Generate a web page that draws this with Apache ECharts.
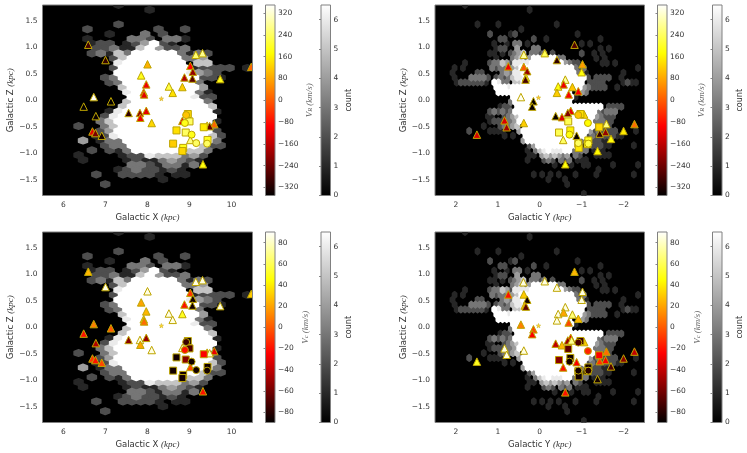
<!DOCTYPE html>
<html><head><meta charset="utf-8">
<style>html,body{margin:0;padding:0;background:#fff}#c{width:747px;height:453px}</style>
<script src="https://cdn.jsdelivr.net/npm/echarts@6/dist/echarts.min.js"></script>
</head><body><div id="c"></div>
<script>
// ---------- tick labels ----------
const xTicksX = [6,7,8,9,10];
const xTicksY = [2,1,0,-1,-2];
const zTicks = [-1.5,-1,-0.5,0,0.5,1,1.5];
const vrTicks = [-320,-240,-160,-80,0,80,160,240,320];
const vcTicks = [-80,-60,-40,-20,0,20,40,60,80];
const countTicks = [0,1,2,3,4,5,6];

// ---------- hexbin counts: [row, firstColumn, counts per column] (7 = saturated) ----------
const hexCountsXZ = [
[-4,8,"1"],[-3,11,"1"],[0,8,"2"],[1,4,"2"],[1,12,"2"],[1,15,"2"],[2,7,"1"],[2,11,"3"],[2,13,"2"],
[3,4,"1"],[3,9,"332"],[3,13,"331"],[4,5,"122"],[4,9,"124"],[4,12,"721"],[5,5,"223"],[5,8,"115"],[5,11,"74"],[5,13,"223"],
[6,5,"231"],[6,8,"53"],[6,10,"77777"],[6,15,"31"],[6,17,"32"],[7,7,"25"],[7,9,"777777"],[7,15,"3"],[7,16,"34"],
[8,8,"6"],[8,9,"7777777"],[8,17,"55"],[9,7,"2"],[9,8,"77777777"],[9,16,"1"],[9,17,"2"],[9,18,"222"],[9,22,"1"],
[10,8,"777777776432"],[11,6,"23"],[11,8,"777777777"],[11,17,"221"],[12,7,"23"],[12,9,"77777777"],[12,17,"3"],
[13,8,"5"],[13,9,"77777777"],[13,17,"4"],[14,9,"6"],[14,10,"7777777"],[14,17,"31"],[15,9,"7"],[15,10,"777777"],[15,16,"62"],[15,18,"2"],
[16,9,"5"],[16,10,"77777777"],[16,18,"3"],[17,8,"5"],[17,9,"777777777"],[17,18,"5"],[18,7,"1"],[18,8,"6"],[18,9,"7777777777"],[18,19,"1"],
[19,6,"26"],[19,8,"77777777777"],[20,6,"35"],[20,8,"77777777777"],[20,19,"1"],[21,3,"2"],[21,6,"35"],[21,8,"7777777777"],[21,18,"3"],
[22,6,"24"],[22,8,"77777777777"],[22,19,"2"],[23,5,"12"],[23,7,"6"],[23,8,"7777777777"],[23,18,"52"],
[24,4,"4"],[24,6,"133"],[24,9,"777777777"],[24,18,"63"],[25,6,"233"],[25,9,"77777777"],[25,17,"5"],[25,18,"2"],[25,19,"2"],
[26,5,"2"],[26,7,"213"],[26,10,"777777"],[26,16,"553"],[27,3,"1"],[27,8,"1"],[27,9,"22"],[27,11,"655534"],[27,17,"2"],
[28,4,"1"],[28,9,"121"],[28,12,"13432"],[28,17,"1"],[29,9,"33"],[29,11,"21"],[29,13,"33"],[29,15,"1"],[29,16,"3"],
[30,8,"1"],[30,9,"232"],[30,12,"2"],[30,13,"121"],[31,5,"2"],[31,8,"2222"],[31,12,"1"],[31,14,"11"],[32,13,"1"],[33,6,"2"]
];
const hexCountsYZ = [
[-4,7,"1"],[-3,22,"1"],[0,10,"1"],[0,15,"1"],[0,29,"1"],[1,20,"1"],[2,13,"2"],[2,18,"1"],[2,19,"2"],[2,34,"1"],
[3,15,"22"],[3,23,"2"],[3,26,"1"],[3,39,"1"],[4,14,"1"],[4,17,"1"],[4,19,"33"],[4,22,"1"],[4,35,"1"],[4,37,"1"],
[5,14,"122"],[5,19,"4"],[5,23,"33"],[5,39,"1"],[5,41,"1"],[6,13,"11"],[6,16,"1"],[6,18,"2345"],[6,23,"3323"],[6,28,"2"],[6,35,"2"],[6,38,"1"],[6,40,"1"],
[7,14,"1"],[7,18,"3453"],[7,22,"4777777"],[7,29,"33"],[7,38,"1"],[7,40,"1"],
[8,7,"1"],[8,13,"233542"],[8,19,"6666"],[8,23,"77777777"],[8,31,"4322"],[8,40,"11"],[8,43,"1"],
[9,4,"1"],[9,6,"1"],[9,13,"3233"],[9,17,"345"],[9,20,"7777777777777"],[9,33,"323"],[9,48,"1"],
[10,4,"1"],[10,10,"22"],[10,16,"343"],[10,19,"66"],[10,21,"7777777777777"],[10,34,"32"],[10,36,"1"],[10,45,"1"],
[11,4,"1"],[11,8,"33332"],[11,14,"2323"],[11,18,"566"],[11,21,"777777777777777"],[11,36,"2"],[11,38,"2222"],[11,44,"1"],
[12,5,"12222221"],[12,14,"76"],[12,16,"33"],[12,19,"55"],[12,21,"777777777777777"],[12,37,"2222"],[12,45,"121"],[12,48,"1"],
[13,14,"777677777777777777777"],[13,35,"432"],[13,38,"222"],[13,43,"1"],
[14,15,"7777"],[14,19,"77777777777777"],[14,35,"43"],[15,18,"777777777777777"],[15,33,"1"],[16,18,"3"],[16,19,"77777777777777"],
[17,15,"122"],[17,19,"777777777777777777777"],[17,41,"2222"],[18,13,"232323"],[18,19,"77777777777777777777"],[18,39,"32333"],
[19,12,"11"],[19,16,"234"],[19,19,"5"],[19,20,"777777777777777777"],[19,38,"43"],[19,40,"222"],
[20,13,"1222334"],[20,20,"777777777777777777"],[20,38,"33322"],[21,11,"1"],[21,15,"23345"],[21,21,"77777777777777777"],[21,38,"32"],[21,40,"22"],
[22,8,"2"],[22,13,"1111"],[22,20,"4"],[22,21,"7777777777777777"],[22,37,"4232222"],[22,48,"1"],
[23,16,"1"],[23,18,"1"],[23,21,"777777777777777"],[23,36,"232222211"],[24,21,"4"],[24,22,"7777777777777"],[24,35,"3"],[24,36,"2222111"],
[25,22,"24"],[25,24,"7777777777"],[25,34,"4"],[25,36,"222211"],[25,47,"1"],[26,22,"1"],[26,24,"35"],[26,26,"6766677"],[26,33,"3333"],[26,38,"111"],
[27,22,"11"],[27,25,"4545434"],[27,33,"32"],[27,38,"111"],[27,41,"1"],[28,22,"1"],[28,26,"232"],[28,30,"323"],[28,34,"111"],
[29,28,"1"],[29,32,"1"],[29,35,"11"],[29,42,"1"],[29,48,"1"],[30,39,"1"],[31,23,"1"],[31,25,"1"],[31,27,"1"],[31,29,"1"],[31,33,"1"],[31,38,"1"],[31,47,"1"],
[32,27,"1"],[32,31,"1"],[33,31,"1"],[35,35,"1"]
];

// ---------- markers: [horizontal kpc, Z kpc, velocity] ----------
const trianglesXVR = [[6.59,1.05,-280],[7.0,.76,-300],[8.0,.68,90],[7.85,.47,190],[7.97,.30,-110],[7.91,.15,-100],[7.92,.11,-120],[8.51,.26,220],[8.6,.14,140],[8.83,.25,120],[9.02,.65,-90],[9.08,.54,-200],[8.88,.43,-170],[9.07,.41,-260],[9.15,.86,250],[9.31,.89,270],[9.73,.40,190],[10.47,.63,10],[6.72,.06,345],[7.13,-.02,-345],[6.48,-.12,-345],[6.77,-.30,-340],[7.55,-.24,-300],[7.82,-.24,-200],[7.83,-.33,-110],[7.97,-.20,-120],[8.1,-.43,130],[6.69,-.59,-120],[6.76,-.62,-230],[6.91,-.67,-330],[9.32,-1.21,180],[8.83,-.39,-110],[9.59,-.45,10],[9.42,-.48,260],[9.48,-.49,-250],[9.02,-.75,260]];
const squaresXVR = [[8.96,-.26,130],[9.0,-.40,240],[8.69,-.57,140],[8.91,-.61,240],[9.34,-.51,150],[8.61,-.82,120],[8.85,-.90,190],[8.83,-.96,130],[9.43,-.75,190]];
const circlesXVR = [[8.92,-.28,110],[8.89,-.43,190],[9.05,-.65,190],[9.16,-.81,240],[9.42,-.82,240]];
const starXVR = [[8.33,.03,100]];

const trianglesYVR = [[-.83,1.05,-270],[-.41,.76,-300],[-1.02,.68,70],[-1.0,.53,180],[.38,.86,280],[-.12,.89,230],[.75,.64,-110],[.38,.63,0],[.30,.55,-200],[.33,.43,190],[.34,.39,-280],[-.61,.39,280],[-.44,.26,180],[-.57,.30,-110],[-.41,.14,120],[-.78,.25,110],[-.69,.11,-100],[-.92,.17,-100],[.45,.06,340],[.15,-.02,-340],[.18,-.12,-340],[-.38,-.30,-340],[-.53,-.32,-130],[-.74,-.20,-120],[-.67,-.24,-220],[.38,-.43,120],[.84,-.38,-130],[.79,-.51,-190],[1.5,-.65,-130],[-1.06,-.27,130],[-1.59,-.45,260],[-2.26,-.45,20],[-2.0,-.58,150],[-1.7,-.73,180],[-1.57,-.60,-200],[-1.43,-.63,-300],[-.88,-.67,-340],[-.56,-.75,240],[-1.38,-.96,170],[-.61,-1.21,180]];
const squaresYVR = [[-.97,-.26,140],[-.68,-.40,230],[-1.42,-.51,130],[-.73,-.57,160],[-.46,-.61,230],[-1.16,-.76,190],[-.92,-.82,180],[-.93,-.90,150],[-1.14,-.83,180]];
const circlesYVR = [[-.92,-.28,110],[-1.15,-.43,170],[-.71,-.65,180],[-.92,-.81,240],[-1.16,-.82,220]];
const starYVR = [[.03,.05,100]];

const trianglesXVc = [[6.59,1.05,25],[7.0,.76,85],[8.0,.68,85],[7.85,.47,20],[7.97,.30,25],[7.91,.15,30],[7.92,.11,5],[8.51,.26,85],[8.6,.14,85],[8.83,.25,50],[9.02,.65,-10],[9.08,.54,-85],[8.88,.43,-20],[9.07,.41,-85],[9.15,.86,85],[9.31,.89,85],[9.73,.40,85],[10.47,.63,30],[6.72,.06,10],[7.13,-.02,0],[6.48,-.12,-20],[6.77,-.30,-45],[7.55,-.24,-55],[7.82,-.24,85],[7.83,-.33,20],[7.97,-.20,-50],[8.1,-.43,85],[6.69,-.59,-10],[6.76,-.62,-20],[6.91,-.67,-5],[9.32,-1.21,-20],[8.83,-.39,80],[9.59,-.45,-30],[9.42,-.48,20],[9.48,-.49,80],[9.02,-.75,-5]];
const squaresXVc = [[8.96,-.26,-85],[9.0,-.40,-70],[8.69,-.57,-85],[8.91,-.61,-55],[9.34,-.51,-25],[8.61,-.82,-85],[8.85,-.90,-85],[8.83,-.96,-85],[9.43,-.75,-85]];
const circlesXVc = [[8.92,-.28,-75],[8.89,-.43,-20],[9.05,-.65,-85],[9.16,-.81,-85],[9.42,-.82,-85]];
const starXVc = [[8.33,.03,30]];

const trianglesYVc = [[-.83,1.05,25],[-.41,.75,85],[-1.02,.67,85],[-1.0,.52,85],[.39,.85,85],[-.12,.87,85],[.75,.62,-20],[.38,.62,30],[.30,.52,-85],[.36,.41,25],[.33,.39,-65],[-.61,.38,85],[-.44,.25,85],[-.57,.28,20],[-.41,.13,85],[-.78,.24,65],[-.69,.09,-5],[-.92,.16,25],[.45,.05,10],[.15,-.04,-5],[.18,-.13,-25],[-.38,-.31,-40],[-.53,-.34,25],[-.74,-.20,-30],[-.67,-.25,-50],[-.76,-.25,70],[.38,-.44,85],[.84,-.40,85],[.79,-.52,85],[1.5,-.65,50],[-1.06,-.28,30],[-1.59,-.46,5],[-2.26,-.46,-40],[-2.0,-.59,-55],[-1.7,-.74,-70],[-1.57,-.62,-25],[-1.43,-.64,-10],[-.88,-.66,-25],[-.56,-.76,-20],[-1.38,-.98,-85],[-.61,-1.23,-20]];
const squaresYVc = [[-.97,-.26,-75],[-.68,-.41,-65],[-1.42,-.53,-25],[-.73,-.58,-85],[-.46,-.62,-55],[-1.16,-.76,-85],[-.92,-.83,-80],[-.93,-.93,-85],[-1.14,-.83,-80]];
const circlesYVc = [[-.92,-.29,-70],[-1.15,-.45,-15],[-.71,-.65,-85],[-.92,-.82,-85],[-1.16,-.82,-80]];
const starYVc = [[.03,.03,30]];

// ---------- rendering ----------
const FONT = '"DejaVu Sans"', INK = '#333', FRAME = '#808080', EDGE = 'rgb(190,165,0)';
const clamp = t => Math.max(0, Math.min(1, t));
function hot(t){ t = clamp(t);
  const r = clamp(t/.365), g = clamp((t-.365)/.381), b = clamp((t-.746)/.254);
  return `rgb(${Math.round(r*255)},${Math.round(g*255)},${Math.round(b*255)})`; }
const HOT_STOPS = [{offset:0,color:'#000'},{offset:.365,color:'#f00'},{offset:.746,color:'#ff0'},{offset:1,color:'#fff'}];
const GRAY_STOPS = [{offset:0,color:'#000'},{offset:1,color:'#fff'}];

const option = {animation:false, backgroundColor:'#fff', grid:[], xAxis:[], yAxis:[], series:[], graphic:[]};

function hexData(rows, x0, sx, dirSign){
  const out = [];
  rows.forEach(([row, col, counts]) => {
    [...counts].forEach((ch, k) => {
      const n = +ch; if (!n) return;
      const x = x0 + dirSign * sx * (col + k + (((row % 2) + 2) % 2) * 0.5);
      out.push([x, 1.434 - row * 0.0915, n]);
    });
  });
  return out;
}
const HEX_SY = 0.183;
function hexSeries(g, data, sx){
  return {type:'custom', xAxisIndex:g, yAxisIndex:g, clip:true, silent:true, z:1, data,
    renderItem(params, api){
      const x = api.value(0), y = api.value(1), n = api.value(2);
      const hw = sx/2, h1 = HEX_SY/3, h2 = HEX_SY/6;
      const pts = [[x+hw,y-h2],[x+hw,y+h2],[x,y+h1],[x-hw,y+h2],[x-hw,y-h2],[x,y-h1]].map(p=>api.coord(p));
      const v = Math.round(Math.min(1, n/6.5)*255), c = `rgb(${v},${v},${v})`;
      return {type:'polygon', z2:n, shape:{points:pts}, style:{fill:c, stroke:c, lineWidth:1.6, lineJoin:'round'}};
    }};
}
function markerSeries(g, data, symbol, size, vmax, z){
  return {type:'scatter', xAxisIndex:g, yAxisIndex:g, symbol, symbolSize:size, silent:true, z, data,
    itemStyle:{color:p=>hot((p.value[2]+vmax)/(2*vmax)), borderColor:EDGE, borderWidth:1, opacity:1}};
}
function axisName(t){ return t + ' {i|(kpc)}'; }
const nameStyle = {color:INK, fontFamily:FONT, fontSize:8.5, rich:{i:{fontFamily:'"Liberation Serif"', fontStyle:'italic', fontSize:9, color:INK}}};
const fmtMinus = d => v => (d ? (+v).toFixed(d) : String(v)).replace('-', '\u2212');

function addPanel(left, top, xLabel, xRange, inverse, xTicks, rows, x0, sx, dir, tri, sq, cir, star, vmax){
  const g = option.grid.length;
  option.grid.push({left, top, width: inverse ? 209.5 : 210, height:190.5, show:true, backgroundColor:'#000', borderColor:FRAME, borderWidth:1});
  option.xAxis.push({type:'value', gridIndex:g, min:xRange[0], max:xRange[1], inverse, name:axisName(xLabel), nameLocation:'middle', nameGap:18, nameTextStyle:nameStyle,
    axisLine:{show:false}, axisTick:{show:false}, splitLine:{show:false},
    axisLabel:{customValues:xTicks, color:INK, fontFamily:FONT, fontSize:7.5, margin:6, formatter:fmtMinus(0)}});
  option.yAxis.push({type:'value', gridIndex:g, min:-1.8, max:1.8, name:axisName('Galactic Z'), nameLocation:'middle', nameGap:27, nameTextStyle:nameStyle,
    axisLine:{show:false}, axisTick:{show:false}, splitLine:{show:false},
    axisLabel:{customValues:zTicks, color:INK, fontFamily:FONT, fontSize:7.5, margin:5, formatter:fmtMinus(1)}});
  option.series.push(hexSeries(g, hexData(rows, x0, sx, dir), sx));
  const clip = true;
  option.series.push(Object.assign(markerSeries(g, tri, 'triangle', 7.5, vmax, 2), {clip}));
  option.series.push(Object.assign(markerSeries(g, sq, 'rect', 7, vmax, 3), {clip}));
  option.series.push(Object.assign(markerSeries(g, cir, 'circle', 7, vmax, 4), {clip}));
  option.series.push(Object.assign(markerSeries(g, star, 'path://M0,-10 L2.9,-3.1 10,-3.1 4.3,1.2 6.2,8.1 0,4 -6.2,8.1 -4.3,1.2 -10,-3.1 -2.9,-3.1 Z', 4.5, vmax, 5), {clip, itemStyle:{color:p=>hot((p.value[2]+vmax)/(2*vmax)), borderColor:EDGE, borderWidth:.5}}));
  if (!inverse) option.graphic.push(
    {type:'rect', z:50, shape:{x:left+210.5, y:top+40, width:9, height:30}, style:{fill:'#fff'}},
    {type:'line', z:50, shape:{x1:left+210, y1:top+40, x2:left+210, y2:top+70}, style:{stroke:FRAME, lineWidth:1}});
}
function addBar(left, top, lo, hi, ticks, stops, name, nameGap, nameSt){
  const g = option.grid.length;
  option.grid.push({left, top, width:9.5, height:190.5, show:false});
  option.xAxis.push({type:'value', gridIndex:g, min:0, max:1, show:false});
  option.yAxis.push({type:'value', gridIndex:g, min:lo, max:hi, position:'right', name, nameLocation:'middle', nameGap, nameRotate:90, nameTextStyle:nameSt,
    axisLine:{show:false}, splitLine:{show:false},
    axisTick:{show:true, customValues:ticks, inside:true, length:2, lineStyle:{color:'#555', width:.7}},
    axisLabel:{customValues:ticks, color:INK, fontFamily:FONT, fontSize:7.5, margin:3, formatter:fmtMinus(0)}});
  option.series.push({type:'custom', xAxisIndex:g, yAxisIndex:g, silent:true, data:[[0,lo,1,hi]],
    renderItem(params, api){
      const a = api.coord([api.value(0), api.value(1)]), b = api.coord([api.value(2), api.value(3)]);
      return {type:'rect', shape:{x:a[0], y:b[1], width:b[0]-a[0], height:a[1]-b[1]},
        style:{fill:new echarts.graphic.LinearGradient(0,1,0,0,stops), stroke:FRAME, lineWidth:1}};
    }});
}
const velStyle = {color:'#666', fontFamily:'"Liberation Serif"', fontStyle:'italic', fontSize:9, rich:{s:{fontSize:6.5, fontStyle:'italic', fontFamily:'"Liberation Serif"', color:'#666', verticalAlign:'bottom'}}};
const countStyle = {color:INK, fontFamily:FONT, fontSize:8};
const XS = 0.2114, X0 = 5.619, YS = 0.0995, Y0 = 2.48;

addPanel(42.5,5,'Galactic X',[5.5,10.5],false,xTicksX,hexCountsXZ,X0,XS,1,trianglesXVR,squaresXVR,circlesXVR,starXVR,350);
addPanel(435,5,'Galactic Y',[-2.5,2.5],true,xTicksY,hexCountsYZ,Y0,YS,-1,trianglesYVR,squaresYVR,circlesYVR,starYVR,350);
addPanel(42.5,232,'Galactic X',[5.5,10.5],false,xTicksX,hexCountsXZ,X0,XS,1,trianglesXVc,squaresXVc,circlesXVc,starXVc,90);
addPanel(435,232,'Galactic Y',[-2.5,2.5],true,xTicksY,hexCountsYZ,Y0,YS,-1,trianglesYVc,squaresYVc,circlesYVc,starYVc,90);

[[265.5,657.5,321,712.5]].forEach(([a,b,c,d])=>{
  addBar(a,5,-350,350,vrTicks,HOT_STOPS,'V{s|R} (km/s)',30,velStyle);
  addBar(b,5,-350,350,vrTicks,HOT_STOPS,'V{s|R} (km/s)',30,velStyle);
  addBar(a,232,-90,90,vcTicks,HOT_STOPS,'V{s|c} (km/s)',26,velStyle);
  addBar(b,232,-90,90,vcTicks,HOT_STOPS,'V{s|c} (km/s)',26,velStyle);
  addBar(c,5,0,6.5,countTicks,GRAY_STOPS,'count',14,countStyle);
  addBar(d,5,0,6.5,countTicks,GRAY_STOPS,'count',14,countStyle);
  addBar(c,232,0,6.5,countTicks,GRAY_STOPS,'count',14,countStyle);
  addBar(d,232,0,6.5,countTicks,GRAY_STOPS,'count',14,countStyle);
});
echarts.init(document.getElementById('c'), null, {renderer:'canvas'}).setOption(option);
</script></body></html>
